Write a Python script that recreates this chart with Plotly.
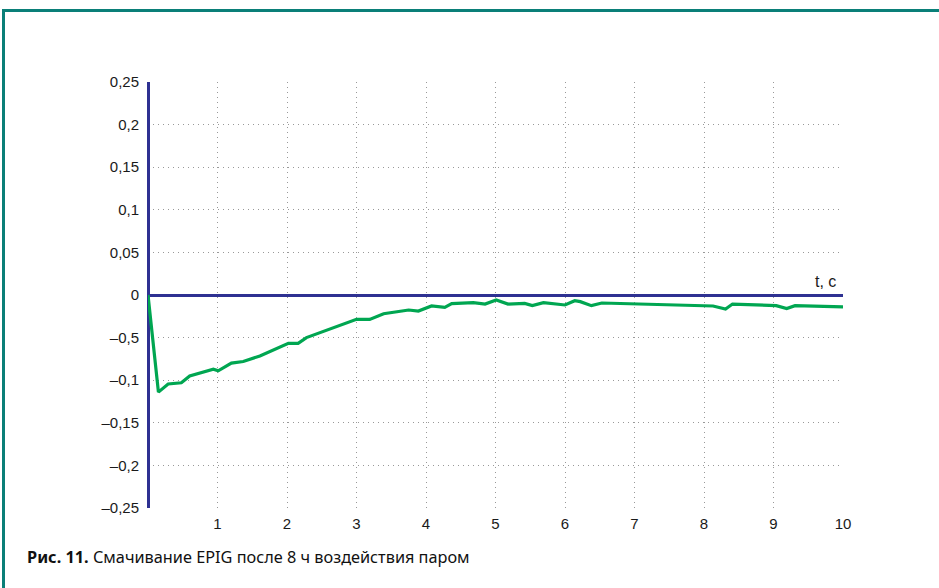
import plotly.graph_objects as go

# Wetting curve of EPIG after 8 h of steam exposure
t = [0, 0.15, 0.29, 0.48, 0.60, 0.94, 1.01, 1.20, 1.37, 1.61, 2.02, 2.16, 2.28,
     2.62, 2.76, 2.88, 3.00, 3.19, 3.39, 3.75, 3.89, 4.08, 4.27, 4.37, 4.68,
     4.85, 5.01, 5.18, 5.42, 5.53, 5.69, 6.00, 6.14, 6.22, 6.38, 6.53, 8.13,
     8.31, 8.41, 9.04, 9.19, 9.31, 10.0]
force = [0, -0.114, -0.1045, -0.103, -0.095, -0.087, -0.089, -0.080, -0.078,
         -0.0716, -0.0567, -0.0567, -0.050, -0.040, -0.036, -0.033, -0.0286,
         -0.0286, -0.022, -0.0176, -0.0188, -0.0129, -0.0145, -0.0102, -0.009,
         -0.0106, -0.0059, -0.0106, -0.0098, -0.0125, -0.009, -0.0117, -0.0067,
         -0.0078, -0.0125, -0.0094, -0.0129, -0.0164, -0.0106, -0.0125, -0.016,
         -0.0125, -0.014]

x_ticks = [1, 2, 3, 4, 5, 6, 7, 8, 9, 10]
x_labels = ["1", "2", "3", "4", "5", "6", "7", "8", "9", "10"]
y_ticks = [0.25, 0.2, 0.15, 0.1, 0.05, 0, -0.05, -0.1, -0.15, -0.2, -0.25]
y_labels = ["0,25", "0,2", "0,15", "0,1", "0,05", "0", "–0,5", "–0,1",
            "–0,15", "–0,2", "–0,25"]

W, H = 939, 588
L, R, T, B = 148, 843, 82, 508   # plot area in pixels

def px_x(p):
    return (p - L) / (R - L)

def px_y(p):
    return (B - p) / (B - T)

AXIS_BLUE = "#2e3192"
GREEN = "#00a651"
TEAL = "#0a7f78"
GRID = "#999999"

fig = go.Figure()
fig.add_trace(go.Scatter(x=t, y=force, mode="lines",
                         line=dict(color=GREEN, width=3.2),
                         showlegend=False, hoverinfo="skip"))

fig.update_layout(
    width=W, height=H, autosize=False,
    margin=dict(l=L, r=W - R, t=T, b=H - B, pad=0),
    paper_bgcolor="white", plot_bgcolor="white",
    font=dict(family="Liberation Sans, Arial, sans-serif", size=15, color="#1a1a1a"),
    xaxis=dict(range=[0, 10], tickvals=x_ticks, ticktext=x_labels,
               showgrid=True, gridcolor=GRID, gridwidth=1, griddash="1px,4px",
               zeroline=True, zerolinecolor=AXIS_BLUE, zerolinewidth=3,
               showline=False, ticks="", ticklabelstandoff=5, fixedrange=True),
    yaxis=dict(range=[-0.25, 0.25], tickvals=y_ticks, ticktext=y_labels,
               showgrid=True, gridcolor=GRID, gridwidth=1, griddash="1px,4px",
               zeroline=True, zerolinecolor=AXIS_BLUE, zerolinewidth=3,
               showline=False, ticks="", ticklabelstandoff=8, fixedrange=True),
    shapes=[
        dict(type="line", xref="paper", yref="paper",
             x0=px_x(3.5), x1=px_x(945), y0=px_y(10.5), y1=px_y(10.5),
             line=dict(color=TEAL, width=3)),
        dict(type="line", xref="paper", yref="paper",
             x0=px_x(3.5), x1=px_x(3.5), y0=px_y(9), y1=px_y(595),
             line=dict(color=TEAL, width=3)),
    ],
    annotations=[
        dict(x=10, y=0, xref="x", yref="y", text="t, c", showarrow=False,
             xanchor="right", yanchor="bottom", xshift=-5, yshift=3,
             font=dict(size=16, color="#1a1a1a")),
        dict(x=px_x(25), y=px_y(557), xref="paper", yref="paper",
             text="<b>Рис. 11.</b> Смачивание EPIG после 8 ч воздействия паром",
             showarrow=False, xanchor="left", yanchor="middle",
             font=dict(family="Noto Sans, sans-serif", size=16.3, color="#111111")),
    ],
)

fig.write_html("out.html")
